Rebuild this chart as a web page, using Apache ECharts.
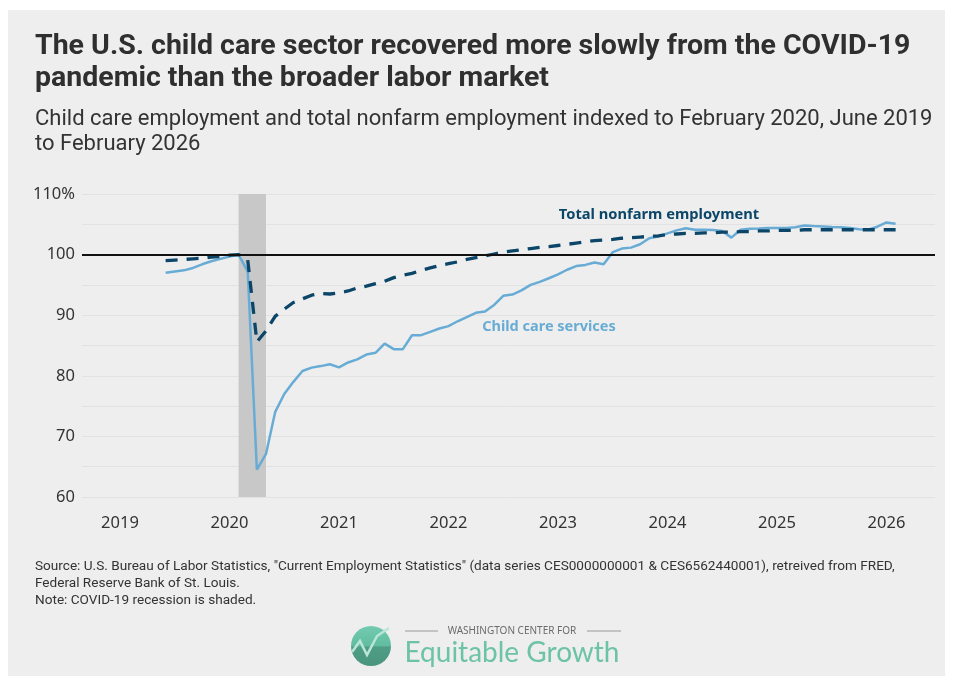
<!DOCTYPE html>
<html>
<head>
<meta charset="utf-8">
<script src="https://cdn.jsdelivr.net/npm/echarts@6/dist/echarts.min.js"></script>
<style>
html,body{margin:0;padding:0;background:#ffffff;}
#panel{position:absolute;left:8px;top:10px;width:937px;height:666px;background:#eeeeee;}
#chart{position:absolute;left:0;top:0;width:953px;height:681px;}
</style>
</head>
<body>
<div id="panel"></div>
<div id="chart"></div>
<script>
// ---- Data (monthly, June 2019 to February 2026, index Feb 2020 = 100) ----
const startYear = 2019, startMonth = 6, endYear = 2026, endMonth = 2;
const months = [];
for (let y = startYear, m = startMonth; y < endYear || (y === endYear && m <= endMonth); ) {
  months.push(y + '-' + String(m).padStart(2, '0'));
  m++; if (m > 12) { m = 1; y++; }
}

const childCare = [
  97.0, 97.2, 97.4, 97.8, 98.4, 98.9, 99.3,                          // 2019 Jun-Dec
  99.7, 100.0, 97.2, 64.5, 67.1, 74.0, 77.0, 79.0, 80.8, 81.35, 81.6, 81.9, // 2020
  81.4, 82.2, 82.7, 83.5, 83.8, 85.3, 84.4, 84.4, 86.7, 86.7, 87.25, 87.8,  // 2021
  88.2, 89.0, 89.7, 90.4, 90.6, 91.7, 93.2, 93.4, 94.1, 95.0, 95.5, 96.1,   // 2022
  96.75, 97.5, 98.1, 98.3, 98.7, 98.4, 100.4, 101.0, 101.15, 101.7, 102.7, 103.0, // 2023
  103.5, 104.0, 104.35, 104.1, 104.1, 104.05, 103.9, 102.8, 104.1, 104.25, 104.3, 104.4, // 2024
  104.4, 104.4, 104.5, 104.8, 104.7, 104.65, 104.55, 104.5, 104.4, 104.2, 104.1, 104.6, // 2025
  105.3, 105.1                                                          // 2026 Jan-Feb
];

const totalNonfarm = [
  99.0, 99.1, 99.2, 99.3, 99.4, 99.6, 99.7,
  99.9, 100.0, 99.1, 85.6, 87.4, 89.8, 91.0, 92.1, 92.7, 93.3, 93.6, 93.5,
  93.7, 94.0, 94.5, 94.8, 95.2, 95.6, 96.2, 96.6, 96.9, 97.4, 97.8, 98.2,
  98.5, 98.8, 99.2, 99.5, 99.8, 100.1, 100.4, 100.6, 100.8, 101.0, 101.2, 101.3,
  101.5, 101.7, 101.9, 102.1, 102.3, 102.4, 102.5, 102.7, 102.8, 102.9, 103.0, 103.1,
  103.3, 103.4, 103.5, 103.5, 103.6, 103.6, 103.7, 103.7, 103.8, 103.8, 103.9, 103.9,
  104.0, 104.0, 104.0, 104.1, 104.1, 104.1, 104.1, 104.1, 104.1, 104.1, 104.1, 104.1,
  104.1, 104.1
];

const yearTicks = [2019, 2020, 2021, 2022, 2023, 2024, 2025, 2026];
const yTickLabels = { 60: '60', 70: '70', 80: '80', 90: '90', 100: '100', 110: '110%' };
const recession = ['2020-02', '2020-05'];
const baseline = 100;

const titleLines = [
  'The U.S. child care sector recovered more slowly from the COVID-19',
  'pandemic than the broader labor market'
];
const subtitleLines = [
  'Child care employment and total nonfarm employment indexed to February 2020, June 2019',
  'to February 2026'
];
const footerLines = [
  'Source: U.S. Bureau of Labor Statistics, "Current Employment Statistics" (data series CES0000000001 & CES6562440001), retreived from FRED,',
  'Federal Reserve Bank of St. Louis.',
  'Note: COVID-19 recession is shaded.'
];

// ---- helpers ----
const toX = s => +s.slice(0, 4) + (+s.slice(5, 7) - 1) / 12;
const pairs = arr => months.map((m, i) => [toX(m), arr[i]]);

const COLOR_CC = '#68acd5';
const COLOR_NF = '#0b4668';
const FONT = 'Noto Sans';

const chart = echarts.init(document.getElementById('chart'), null, { renderer: 'canvas' });

const option = {
  backgroundColor: 'transparent',
  animation: false,
  grid: { left: 82, right: 18, top: 194, bottom: 184, containLabel: false },
  xAxis: {
    type: 'value',
    min: 2018.653,
    max: 2026.443,
    axisLine: { show: false },
    axisTick: { show: false },
    splitLine: { show: false },
    axisLabel: {
      customValues: yearTicks,
      formatter: v => String(Math.round(v)),
      color: '#333333',
      fontFamily: FONT,
      fontSize: 16.5,
      margin: 18
    }
  },
  yAxis: {
    type: 'value',
    min: 60,
    max: 110,
    interval: 5,
    axisLine: { show: false },
    axisTick: { show: false },
    splitLine: { show: true, lineStyle: { color: '#e2e2e2', width: 1 } },
    axisLabel: {
      formatter: v => yTickLabels[v] || '',
      color: '#333333',
      fontFamily: FONT,
      fontSize: 16.5,
      margin: 7
    }
  },
  series: [
    {
      type: 'line',
      name: 'recession',
      data: [],
      z: 1,
      markArea: {
        silent: true,
        itemStyle: { color: '#c8c8c8' },
        data: [[{ xAxis: toX(recession[0]) }, { xAxis: toX(recession[1]) }]]
      },
      markLine: {
        silent: true,
        symbol: 'none',
        label: { show: false },
        lineStyle: { color: '#111111', width: 2, type: 'solid' },
        data: [{ yAxis: baseline }]
      }
    },
    {
      type: 'line',
      name: 'Total nonfarm employment',
      data: pairs(totalNonfarm),
      showSymbol: false,
      z: 4,
      lineStyle: { color: COLOR_NF, width: 3.3, type: [12, 9] }
    },
    {
      type: 'line',
      name: 'Child care services',
      data: pairs(childCare),
      showSymbol: false,
      z: 3,
      lineStyle: { color: COLOR_CC, width: 2.5 }
    }
  ],
  graphic: [
    { type: 'text', left: 35, top: 32, style: { text: titleLines[0], font: 'bold 28.5px Roboto', fill: '#2f2f2f' } },
    { type: 'text', left: 35, top: 64, style: { text: titleLines[1], font: 'bold 28.5px Roboto', fill: '#2f2f2f' } },
    { type: 'text', left: 35, top: 108, style: { text: subtitleLines[0], font: '22px Roboto', fill: '#333333' } },
    { type: 'text', left: 35, top: 133, style: { text: subtitleLines[1], font: '22px Roboto', fill: '#333333' } },
    { type: 'text', x: 659, y: 215, style: { text: 'Total nonfarm employment', font: 'bold 14.7px "Noto Sans"', fill: COLOR_NF, align: 'center', verticalAlign: 'middle' } },
    { type: 'text', x: 549, y: 327, style: { text: 'Child care services', font: 'bold 14.5px "Noto Sans"', fill: COLOR_CC, align: 'center', verticalAlign: 'middle' } },
    { type: 'text', x: 35, y: 567, style: { text: footerLines[0], font: '13.6px Roboto', fill: '#333333', verticalAlign: 'middle' } },
    { type: 'text', x: 35, y: 584, style: { text: footerLines[1], font: '13.6px Roboto', fill: '#333333', verticalAlign: 'middle' } },
    { type: 'text', x: 35, y: 601, style: { text: footerLines[2], font: '13.6px Roboto', fill: '#333333', verticalAlign: 'middle' } },
    // logo
    { type: 'circle', shape: { cx: 371, cy: 646, r: 20 },
      style: { fill: new echarts.graphic.LinearGradient(0, 0, 0, 1, [
        { offset: 0, color: '#72cbb0' }, { offset: 0.5, color: '#62bc9f' },
        { offset: 0.52, color: '#4f9d85' }, { offset: 1, color: '#4a957d' }]) } },
    { type: 'polyline', shape: { points: [[352, 652], [360, 641], [367, 655], [377, 636], [389, 628]] },
      style: { stroke: '#b9e6d6', lineWidth: 2.5, fill: null } },
    { type: 'line', shape: { x1: 405, y1: 631, x2: 438, y2: 631 }, style: { stroke: '#9a9a9a', lineWidth: 1 } },
    { type: 'line', shape: { x1: 587, y1: 631, x2: 621, y2: 631 }, style: { stroke: '#9a9a9a', lineWidth: 1 } },
    { type: 'text', x: 512, y: 631, style: { text: 'WASHINGTON CENTER FOR', font: '10px "Noto Sans"', fill: '#6b6b6b', align: 'center', verticalAlign: 'middle' } },
    { type: 'text', x: 512, y: 653, style: { text: 'Equitable Growth', font: '28px Lato', fill: '#6cc3a5', align: 'center', verticalAlign: 'middle' } }
  ]
};
chart.setOption(option);
</script>
</body>
</html>
